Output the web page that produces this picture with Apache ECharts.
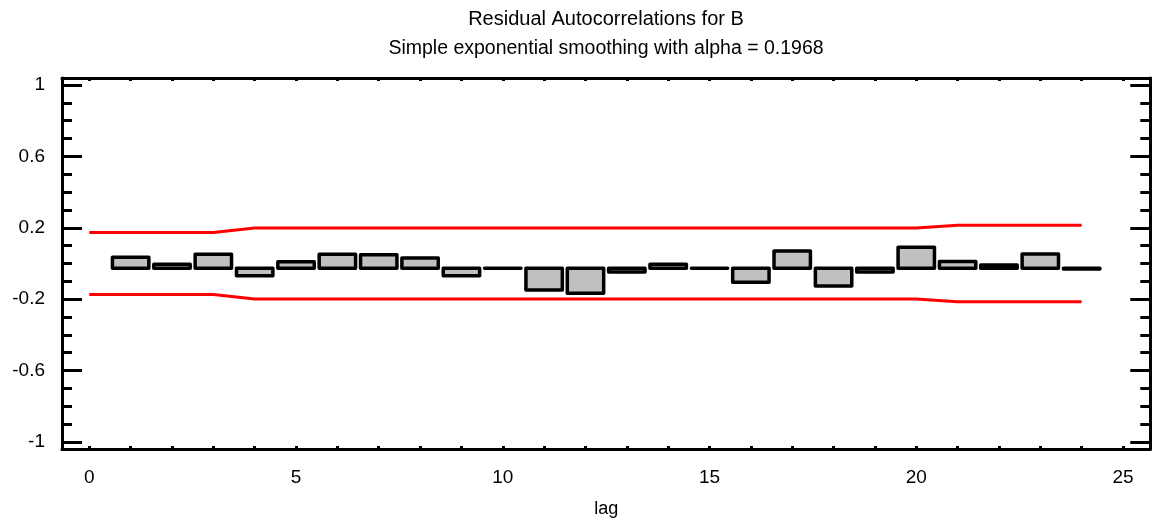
<!DOCTYPE html>
<html>
<head>
<meta charset="utf-8">
<script src="https://cdn.jsdelivr.net/npm/echarts@6/dist/echarts.min.js"></script>
<style>
html,body{margin:0;padding:0;background:#ffffff;}
#chart{width:1152px;height:519px;}
</style>
</head>
<body>
<div id="chart"></div>
<script>
// ---- data ----
const lags = [1, 2, 3, 4, 5, 6, 7, 8, 9, 10, 11, 12, 13, 14, 15, 16, 17, 18, 19, 20, 21, 22, 23, 24];
const acf = [0.035, -0.004, 0.052, -0.068, 0.010, 0.052, 0.049, 0.031, -0.068, -0.027, -0.148, -0.167,
             -0.048, -0.004, -0.027, -0.105, 0.070, -0.126, -0.048, 0.091, 0.011, -0.008, 0.053, -0.031];
const limitLags = [0, 1, 2, 3, 4, 5, 6, 7, 8, 9, 10, 11, 12, 13, 14, 15, 16, 17, 18, 19, 20, 21, 22, 23, 24];
const upperLimit = [0.174, 0.174, 0.174, 0.174, 0.199, 0.199, 0.199, 0.199, 0.199, 0.199, 0.199, 0.199, 0.199,
                    0.199, 0.199, 0.199, 0.199, 0.199, 0.199, 0.199, 0.199, 0.215, 0.215, 0.215, 0.215];
const lowerLimit = [-0.174, -0.174, -0.174, -0.174, -0.199, -0.199, -0.199, -0.199, -0.199, -0.199, -0.199, -0.199, -0.199,
                    -0.199, -0.199, -0.199, -0.199, -0.199, -0.199, -0.199, -0.199, -0.215, -0.215, -0.215, -0.215];
const xTickValues = [0, 1, 2, 3, 4, 5, 6, 7, 8, 9, 10, 11, 12, 13, 14, 15, 16, 17, 18, 19, 20, 21, 22, 23, 24, 25];
const xLabelValues = [0, 5, 10, 15, 20, 25];
const yMajorTicks = [-1, -0.6, -0.2, 0.2, 0.6, 1];
const yMinorTicks = [-0.9, -0.8, -0.7, -0.5, -0.4, -0.3, -0.1, 0, 0.1, 0.3, 0.4, 0.5, 0.7, 0.8, 0.9];
const titleText = 'Residual Autocorrelations for B';
const subtitleText = 'Simple exponential smoothing with alpha = 0.1968';
const xAxisName = 'lag';

// ---- styles ----
const FONT = "'Liberation Sans', Arial, sans-serif";
const BAR_HALF = 0.44;      // half bar width in lag units
const BAR_BASE = -0.027;    // baseline the reference draws its bars from
const black = '#000000';

const chart = echarts.init(document.getElementById('chart'), null, {renderer: 'canvas'});

const gridBox = {left: 62, right: 1.7, top: 77.9, bottom: 69.9, containLabel: false, outerBoundsMode: 'none'};
const xBase = {type: 'value', min: -0.66, max: 25.66, splitLine: {show: false}};
const yBase = {type: 'value', min: -1.04, max: 1.04, splitLine: {show: false}};
const lineW = {color: black, width: 3};

const option = {
  backgroundColor: '#ffffff',
  animation: false,
  title: [
    {text: titleText, left: 606, top: 9, padding: 0, textAlign: 'center',
     textStyle: {fontFamily: FONT, fontSize: 20, fontWeight: 'normal', color: black, lineHeight: 20}},
    {text: subtitleText, left: 606, top: 39, padding: 0, textAlign: 'center',
     textStyle: {fontFamily: FONT, fontSize: 19.5, fontWeight: 'normal', color: black, lineHeight: 20}}
  ],
  grid: [Object.assign({}, gridBox), Object.assign({}, gridBox)],
  xAxis: [
    Object.assign({}, xBase, {
      gridIndex: 0, position: 'bottom',
      name: xAxisName, nameLocation: 'middle', nameGap: 51,
      nameTextStyle: {fontFamily: FONT, fontSize: 18, color: black},
      axisLine: {show: true, onZero: false, lineStyle: lineW},
      axisTick: {show: true, inside: true, length: 3, customValues: xTickValues, lineStyle: lineW},
      axisLabel: {show: true, customValues: xLabelValues, margin: 19, fontFamily: FONT, fontSize: 19, color: black}
    }),
    Object.assign({}, xBase, {
      gridIndex: 0, position: 'top',
      axisLine: {show: true, onZero: false, lineStyle: lineW},
      axisTick: {show: true, inside: true, length: 3, customValues: xTickValues, lineStyle: lineW},
      axisLabel: {show: false}
    }),
    Object.assign({}, xBase, {gridIndex: 1, show: false})
  ],
  yAxis: [
    Object.assign({}, yBase, {
      gridIndex: 0, position: 'left',
      axisLine: {show: true, onZero: false, lineStyle: lineW},
      axisTick: {show: true, inside: true, length: 20, customValues: yMajorTicks, lineStyle: lineW},
      axisLabel: {show: true, customValues: yMajorTicks, margin: 17, fontFamily: FONT, fontSize: 19, color: black,
                  formatter: function (v) { return String(v); }}
    }),
    Object.assign({}, yBase, {
      gridIndex: 0, position: 'right',
      axisLine: {show: true, onZero: false, lineStyle: lineW},
      axisTick: {show: true, inside: true, length: 20, customValues: yMajorTicks, lineStyle: lineW},
      axisLabel: {show: false}
    }),
    Object.assign({}, yBase, {
      gridIndex: 1, position: 'left',
      axisLine: {show: false, onZero: false},
      axisTick: {show: true, inside: true, length: 10, customValues: yMinorTicks, lineStyle: lineW},
      axisLabel: {show: false}
    }),
    Object.assign({}, yBase, {
      gridIndex: 1, position: 'right',
      axisLine: {show: false, onZero: false},
      axisTick: {show: true, inside: true, length: 10, customValues: yMinorTicks, lineStyle: lineW},
      axisLabel: {show: false}
    })
  ],
  series: [
    {
      type: 'line', name: 'upper limit', xAxisIndex: 0, yAxisIndex: 0,
      data: limitLags.map((l, i) => [l, upperLimit[i]]),
      showSymbol: false, symbol: 'none', silent: true,
      lineStyle: {color: '#ff0000', width: 3}
    },
    {
      type: 'line', name: 'lower limit', xAxisIndex: 0, yAxisIndex: 0,
      data: limitLags.map((l, i) => [l, lowerLimit[i]]),
      showSymbol: false, symbol: 'none', silent: true,
      lineStyle: {color: '#ff0000', width: 3}
    },
    {
      type: 'custom', name: 'autocorrelation', xAxisIndex: 0, yAxisIndex: 0,
      data: lags.map((l, i) => [l, acf[i]]),
      renderItem: function (params, api) {
        const lag = api.value(0);
        const val = api.value(1);
        const p1 = api.coord([lag - BAR_HALF, BAR_BASE]);
        const p2 = api.coord([lag + BAR_HALF, val]);
        const x = Math.min(p1[0], p2[0]);
        const y = Math.min(p1[1], p2[1]);
        return {
          type: 'rect',
          shape: {x: x, y: y, width: Math.abs(p2[0] - p1[0]), height: Math.abs(p2[1] - p1[1])},
          style: {fill: '#c0c0c0', stroke: black, lineWidth: 3.5, lineJoin: 'round', lineCap: 'round'}
        };
      },
      z: 3
    }
  ]
};
chart.setOption(option);
</script>
</body>
</html>
